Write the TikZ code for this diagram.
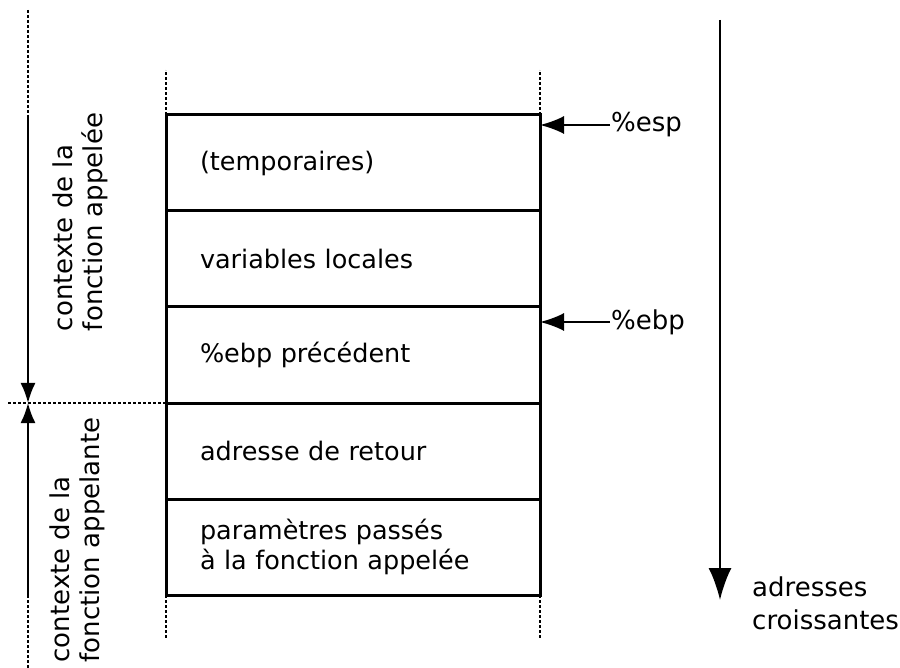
\documentclass[tikz,border=0pt]{standalone}
\usepackage{fontspec}
\setmainfont{DejaVu Sans}
\usetikzlibrary{arrows.meta,positioning}

\begin{document}
\begin{tikzpicture}[
  x=1pt, y=1pt,
  node distance=0pt,
  cell/.style={draw, line width=3pt, outer sep=0pt, minimum width=374pt, minimum height=96pt, text width=306pt, align=left, inner sep=0pt, font=\fontsize{25.5}{30}\selectfont},
  label/.style={inner sep=1pt, align=left, font=\fontsize{26}{33}\selectfont},
  ctxlabel/.style={rotate=90, align=left, inner sep=0pt, font=\fontsize{26}{30}\selectfont},
  guide/.style={line width=1.6pt, dash pattern=on 3pt off 2pt},
  ptr/.style={-{Latex[length=24pt,width=18pt]}, line width=2pt},
  bigptr/.style={-{Latex[length=32pt,width=23pt]}, line width=2.4pt}
]
  \useasboundingbox (0,0) rectangle (900,-668);

  % the stack, top to bottom
  \node[cell] (temp) at (353,-163) {(temporaires)};
  \node[cell, below=of temp] (locals) {variables locales};
  \node[cell, below=of locals] (oldebp) {\%ebp précédent};
  \node[cell, below=of oldebp] (ret) {adresse de retour};
  \node[cell, below=of ret] (params) {paramètres passés\\à la fonction appelée};

  % stack continues above and below
  \draw[guide] (temp.north west) -- ++(0,45);
  \draw[guide] (temp.north east) -- ++(0,45);
  \draw[guide] (params.south west) -- ++(0,-44);
  \draw[guide] (params.south east) -- ++(0,-44);

  % register pointers
  \node[label, anchor=west] (esp) at (610,-125) {\%esp};
  \node[label, anchor=west] (ebp) at (610,-322) {\%ebp};
  \draw[ptr] (esp.west) -- (esp.west -| temp.east);
  \draw[ptr] (ebp.west) -- (ebp.west -| oldebp.east);

  % address direction
  \coordinate (growtop) at (720,-20);
  \node[label, anchor=west] (grow) at (751,-603) {adresses\\croissantes};
  \draw[bigptr] (growtop) -- (720,-600);

  % contexts on the left
  \coordinate (axis) at (28,0);
  \coordinate (split) at (8,0);
  \draw[guide] (axis |- 0,-10) -- (axis |- temp.north);
  \draw[ptr, -{Latex[length=20pt,width=15pt]}] (axis |- temp.north) -- (axis |- ret.north);
  \draw[guide] (split |- ret.north) -- (ret.north west);
  \draw[ptr, -{Latex[length=20pt,width=15pt]}] (axis |- params.south) -- (axis |- ret.north);
  \draw[guide] (axis |- params.south) -- (axis |- 0,-668);
  \node[ctxlabel] (callee) at (80,-222) {contexte de la\\fonction appelée};
  \node[ctxlabel] (caller) at (77,-540) {contexte de la\\fonction appelante};
\end{tikzpicture}
\end{document}
